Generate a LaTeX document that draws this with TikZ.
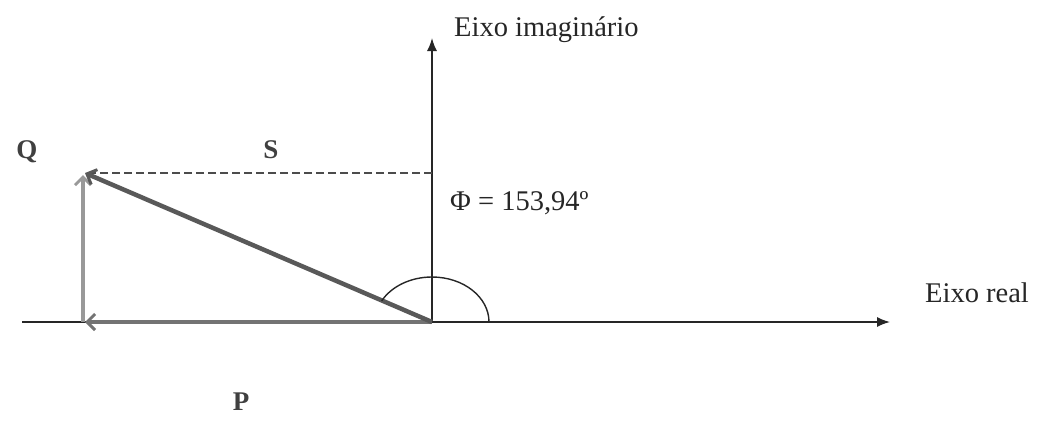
\documentclass[tikz,border=0pt]{standalone}
\usepackage{fontspec}
\setmainfont{Liberation Serif}
\usetikzlibrary{arrows.meta}
\begin{document}
\begin{tikzpicture}[x=1pt,y=-1pt,
  axis/.style={line width=1.5pt,draw=black!85,-{Latex[length=13pt,width=10pt]}},
  vec/.style={line width=4.5pt,-{Straight Barb[length=8pt,width=16pt,line width=3pt]}},
  lbl/.style={font=\fontsize{28.5}{32}\selectfont,text=black!85,inner sep=0pt},
  letter/.style={font=\fontsize{27}{30}\selectfont\bfseries,text=black!75,inner sep=0pt}]
\useasboundingbox (0,0) rectangle (1045,421);
\coordinate (O) at (432,322);
\coordinate (Ytop) at (432,38);
\coordinate (Xl) at (22,322);
\coordinate (Xr) at (890,322);
\coordinate (S) at (85,173);
\coordinate (P) at (85,322);
\coordinate (Qb) at (83,322);
\coordinate (Qt) at (83,175);
\coordinate (D) at (432,173);
% axes
\draw[axis] (O) -- (Ytop);
\draw[axis] (Xl) -- (Xr);
% dashed
\draw[line width=2.2pt,draw=black!70,dash pattern=on 8pt off 4pt] (D) -- (S);
% vectors
\draw[vec,draw=black!40] (Qb) -- (Qt);
\draw[vec,draw=black!55] (O) -- (P);
\draw[vec,draw=black!65] (O) -- (S);
% angle arc
\draw[line width=1.4pt,draw=black!85] ([xshift=57pt]O) arc[start angle=0,end angle=152,x radius=57pt,y radius=45pt];
% labels
\node[lbl,anchor=base west] (ly) at (454,36) {Eixo imaginário};
\node[lbl,anchor=base west] (lx) at (925,302) {Eixo real};
\node[lbl,anchor=base west] (lphi) at (450,210) {Φ = 153,94º};
\node[letter] (lq) at (27,152) {Q};
\node[letter] (ls) at (271,150) {S};
\node[letter] (lp) at (241,402) {P};
\end{tikzpicture}
\end{document}
